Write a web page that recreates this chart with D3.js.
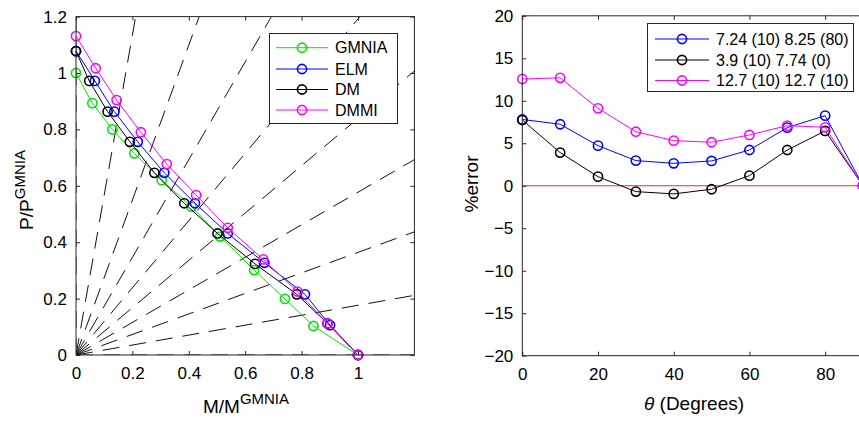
<!DOCTYPE html>
<html>
<head>
<meta charset="utf-8">
<script src="https://cdn.jsdelivr.net/npm/d3@7"></script>
<style>
  body { margin: 0; background: #fff; }
  svg { display: block; font-family: "Liberation Sans", Arial, sans-serif; }
</style>
</head>
<body>
<div id="container"></div>
<script>
"use strict";

const width = 859;
const height = 421;

// left panel: interaction diagram
const seriesNames = ["GMNIA", "ELM", "DM", "DMMI"];
const gmniaM = [0, 0.058, 0.129, 0.207, 0.304, 0.41, 0.511, 0.632, 0.741, 0.842, 1];
const gmniaP = [1.0, 0.893, 0.8, 0.715, 0.62, 0.526, 0.42, 0.301, 0.199, 0.103, 0];
const elmM = [0, 0.067, 0.136, 0.219, 0.313, 0.422, 0.538, 0.668, 0.812, 0.901, 1];
const elmP = [1.078, 0.972, 0.863, 0.756, 0.646, 0.538, 0.431, 0.327, 0.215, 0.106, 0];
const dmM = [0, 0.047, 0.112, 0.191, 0.278, 0.384, 0.502, 0.635, 0.783, 0.892, 1];
const dmP = [1.077, 0.972, 0.863, 0.756, 0.646, 0.538, 0.431, 0.323, 0.215, 0.112, 0];
const dmmiM = [0, 0.07, 0.144, 0.23, 0.322, 0.426, 0.538, 0.664, 0.785, 0.892, 1];
const dmmiP = [1.131, 1.017, 0.904, 0.79, 0.677, 0.567, 0.451, 0.339, 0.225, 0.112, 0];
const rayAngles = [0, 10, 20, 30, 40, 50, 60, 70, 80, 90];
const leftXTicks = [0, 0.2, 0.4, 0.6, 0.8, 1];
const leftYTicks = [0, 0.2, 0.4, 0.6, 0.8, 1, 1.2];

// right panel: error vs angle
const theta = [0, 10, 20, 30, 40, 50, 60, 70, 80, 90];
const errorNames = ["7.24 (10) 8.25 (80)", "3.9 (10) 7.74 (0)", "12.7 (10) 12.7 (10)"];
const errorElm = [7.8, 7.24, 4.72, 2.96, 2.64, 2.92, 4.21, 6.84, 8.25, 0];
const errorDm = [7.74, 3.9, 1.07, -0.69, -0.96, -0.41, 1.19, 4.21, 6.45, 0];
const errorDmmi = [12.56, 12.7, 9.11, 6.36, 5.31, 5.12, 5.98, 7.07, 6.88, 0];
const rightXTicks = [0, 20, 40, 60, 80];
const rightYTicks = [-20, -15, -10, -5, 0, 5, 10, 15, 20];

const green = "#00e600";
const blue = "#0000ff";
const black = "#000000";
const magenta = "#ff00ff";
const frameColor = "#262626";

const leftSeries = [
  { name: seriesNames[0], color: green, xs: gmniaM, ys: gmniaP },
  { name: seriesNames[1], color: blue, xs: elmM, ys: elmP },
  { name: seriesNames[2], color: black, xs: dmM, ys: dmP },
  { name: seriesNames[3], color: magenta, xs: dmmiM, ys: dmmiP },
];

const rightSeries = [
  { name: errorNames[0], color: blue, ys: errorElm },
  { name: errorNames[1], color: black, ys: errorDm },
  { name: errorNames[2], color: magenta, ys: errorDmmi },
];

const svg = d3
  .select("#container")
  .append("svg")
  .attr("width", width)
  .attr("height", height);

const tickFont = "17px";
const labelFont = "19px";

// draws a matlab style box with inward ticks on every side
const drawFrame = (g, x, y, xTicks, yTicks, fmtX, fmtY) => {
  const [x0, x1] = x.range();
  const [y0, y1] = y.range();

  g.append("g")
    .attr("transform", `translate(0, ${y0})`)
    .call(d3.axisBottom(x).tickValues(xTicks).tickSizeInner(-4).tickSizeOuter(0).tickPadding(12).tickFormat(fmtX))
    .call((a) => a.select(".domain").remove());

  g.append("g")
    .attr("transform", `translate(0, ${y1})`)
    .call(d3.axisTop(x).tickValues(xTicks).tickSizeInner(-4).tickSizeOuter(0).tickFormat(""))
    .call((a) => a.select(".domain").remove());

  g.append("g")
    .attr("transform", `translate(${x0}, 0)`)
    .call(d3.axisLeft(y).tickValues(yTicks).tickSizeInner(-4).tickSizeOuter(0).tickPadding(9).tickFormat(fmtY))
    .call((a) => a.select(".domain").remove());

  g.append("g")
    .attr("transform", `translate(${x1}, 0)`)
    .call(d3.axisRight(y).tickValues(yTicks).tickSizeInner(-4).tickSizeOuter(0).tickFormat(""))
    .call((a) => a.select(".domain").remove());

  g.selectAll(".tick line").attr("stroke", frameColor);
  g.selectAll(".tick text")
    .style("font-size", tickFont)
    .style("font-family", "'Liberation Sans', Arial, sans-serif")
    .attr("fill", "#000");

  g.append("rect")
    .attr("x", x0)
    .attr("y", y1)
    .attr("width", x1 - x0)
    .attr("height", y0 - y1)
    .attr("fill", "none")
    .attr("stroke", frameColor)
    .attr("stroke-width", 1);
};

const drawLegend = (g, items, box, lineX, rowY) => {
  g.append("rect")
    .attr("x", box[0])
    .attr("y", box[1])
    .attr("width", box[2])
    .attr("height", box[3])
    .attr("fill", "#fff")
    .attr("stroke", frameColor);

  const rows = g
    .selectAll(".legend-row")
    .data(items)
    .enter()
    .append("g")
    .attr("transform", (_d, i) => `translate(0, ${rowY[i]})`);

  rows.append("line")
    .attr("x1", lineX[0])
    .attr("x2", lineX[1])
    .attr("stroke", (d) => d.color);

  rows.append("circle")
    .attr("cx", (lineX[0] + lineX[1]) / 2)
    .attr("r", 4.6)
    .attr("fill", "none")
    .attr("stroke", (d) => d.color)
    .attr("stroke-width", 1.6);

  rows.append("text")
    .attr("x", lineX[1] + 7)
    .attr("dy", "0.36em")
    .style("font-size", "16px")
    .text((d) => d.name);
};

// ---------- left panel ----------
const xLeft = d3.scaleLinear().domain([0, 1.2]).range([76, 414.4]);
const yLeft = d3.scaleLinear().domain([0, 1.2]).range([355, 16.6]);

const left = svg.append("g");

left.append("defs")
  .append("clipPath")
  .attr("id", "clip-left")
  .append("rect")
  .attr("x", 76)
  .attr("y", 16.6)
  .attr("width", 414.4 - 76)
  .attr("height", 355 - 16.6);

// radial dashed lines at constant angle from the origin
left.append("g")
  .attr("clip-path", "url(#clip-left)")
  .selectAll("line")
  .data(rayAngles)
  .enter()
  .append("line")
  .attr("x1", xLeft(0))
  .attr("y1", yLeft(0))
  .attr("x2", (d) => xLeft(2 * Math.cos((d * Math.PI) / 180)))
  .attr("y2", (d) => yLeft(2 * Math.sin((d * Math.PI) / 180)))
  .attr("stroke", "#111")
  .attr("stroke-width", 1)
  .attr("stroke-dasharray", "17,10");

const leftLine = d3
  .line()
  .x((d) => xLeft(d[0]))
  .y((d) => yLeft(d[1]));

leftSeries.forEach((s) => {
  const pts = d3.zip(s.xs, s.ys);
  left.append("path")
    .attr("d", leftLine(pts))
    .attr("fill", "none")
    .attr("stroke", s.color)
    .attr("stroke-width", 1);
  left.selectAll(null)
    .data(pts)
    .enter()
    .append("circle")
    .attr("cx", (d) => xLeft(d[0]))
    .attr("cy", (d) => yLeft(d[1]))
    .attr("r", 4.6)
    .attr("fill", "none")
    .attr("stroke", s.color)
    .attr("stroke-width", 1.6);
});

drawFrame(left, xLeft, yLeft, leftXTicks, leftYTicks, d3.format("~g"), d3.format("~g"));

drawLegend(left, leftSeries, [269.5, 33.5, 128, 90], [276, 328], [47.7, 69, 89.5, 110]);

const xLabelLeft = left.append("text")
  .attr("x", 246)
  .attr("y", 413)
  .attr("text-anchor", "middle")
  .style("font-size", labelFont);
xLabelLeft.append("tspan").text("M/M");
xLabelLeft.append("tspan").attr("dy", -9).style("font-size", "15px").text("GMNIA");

const yLabelLeft = left.append("text")
  .attr("text-anchor", "middle")
  .attr("transform", "translate(33, 190) rotate(-90)")
  .style("font-size", labelFont);
yLabelLeft.append("tspan").text("P/P");
yLabelLeft.append("tspan").attr("dy", -8).style("font-size", "15px").text("GMNIA");

// ---------- right panel ----------
const xRight = d3.scaleLinear().domain([0, 90]).range([522.3, 863]);
const yRight = d3.scaleLinear().domain([-20, 20]).range([355.7, 15.8]);

const right = svg.append("g");

right.append("line")
  .attr("x1", xRight(0))
  .attr("x2", xRight(90))
  .attr("y1", yRight(0))
  .attr("y2", yRight(0))
  .attr("stroke", "#ff2020")
  .attr("stroke-width", 1);

const rightLine = d3
  .line()
  .x((d) => xRight(d[0]))
  .y((d) => yRight(d[1]));

rightSeries.forEach((s) => {
  const pts = d3.zip(theta, s.ys);
  right.append("path")
    .attr("d", rightLine(pts))
    .attr("fill", "none")
    .attr("stroke", s.color)
    .attr("stroke-width", 1);
  right.selectAll(null)
    .data(pts)
    .enter()
    .append("circle")
    .attr("cx", (d) => xRight(d[0]))
    .attr("cy", (d) => yRight(d[1]))
    .attr("r", 4.6)
    .attr("fill", "none")
    .attr("stroke", s.color)
    .attr("stroke-width", 1.6);
});

drawFrame(right, xRight, yRight, rightXTicks, rightYTicks, d3.format("d"), d3.format("d"));

drawLegend(right, rightSeries, [647.5, 23.5, 206, 68], [655, 709], [39, 60, 80.5]);

const xLabelRight = right.append("text")
  .attr("x", 694)
  .attr("y", 410)
  .attr("text-anchor", "middle")
  .style("font-size", labelFont);
xLabelRight.append("tspan").style("font-style", "italic").text("θ");
xLabelRight.append("tspan").text(" (Degrees)");

right.append("text")
  .attr("text-anchor", "middle")
  .attr("transform", "translate(478, 184) rotate(-90)")
  .style("font-size", labelFont)
  .text("%error");
</script>
</body>
</html>
